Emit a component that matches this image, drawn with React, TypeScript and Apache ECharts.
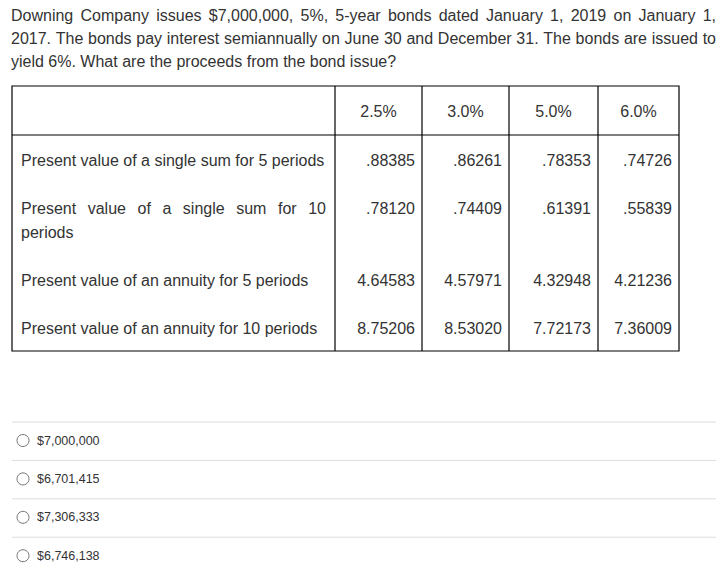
import React, { useEffect, useRef } from "react";
import * as echarts from "echarts";

const questionLines = [
  "Downing Company issues $7,000,000, 5%, 5-year bonds dated January 1, 2019 on January 1,",
  "2017. The bonds pay interest semiannually on June 30 and December 31. The bonds are issued to",
  "yield 6%. What are the proceeds from the bond issue?",
];
const rateHeaders = ["2.5%", "3.0%", "5.0%", "6.0%"];
const rowLabels = [
  "Present value of a single sum for 5 periods",
  "Present value of a single sum for 10 periods",
  "Present value of an annuity for 5 periods",
  "Present value of an annuity for 10 periods",
];
const pvSingle5 = [0.88385, 0.86261, 0.78353, 0.74726];
const pvSingle10 = [0.7812, 0.74409, 0.61391, 0.55839];
const pvAnnuity5 = [4.64583, 4.57971, 4.32948, 4.21236];
const pvAnnuity10 = [8.75206, 8.5302, 7.72173, 7.36009];
const answerChoices = ["$7,000,000", "$6,701,415", "$7,306,333", "$6,746,138"];

const FONT = '"Liberation Sans", Arial, sans-serif';
const TEXT = "#333333";

function fmt(v: number) {
  const s = v.toFixed(5);
  return s.startsWith("0") ? s.slice(1) : s;
}

let ctx: CanvasRenderingContext2D | null = null;
function measure(s: string, size: number) {
  if (!ctx) ctx = document.createElement("canvas").getContext("2d");
  ctx!.font = `${size}px ${FONT}`;
  return ctx!.measureText(s).width;
}

function textEl(text: string, x: number, y: number, size: number, align = "left", extra: any = {}) {
  return {
    type: "text",
    x,
    y,
    silent: true,
    style: { text, fill: TEXT, fontSize: size, fontFamily: FONT, align, verticalAlign: "middle", ...extra },
  };
}

function justified(line: string, x0: number, x1: number, y: number, size: number) {
  const words = line.split(" ");
  const widths = words.map((w) => measure(w, size));
  const total = widths.reduce((a, b) => a + b, 0);
  const gap = words.length > 1 ? (x1 - x0 - total) / (words.length - 1) : 0;
  const els: any[] = [];
  let x = x0;
  words.forEach((w, i) => {
    els.push(textEl(w, x, y, size));
    x += widths[i] + gap;
  });
  return els;
}

function wrap(text: string, width: number, size: number) {
  const words = text.split(" ");
  const lines: string[] = [];
  let cur = "";
  words.forEach((w) => {
    const t = cur ? cur + " " + w : w;
    if (measure(t, size) > width && cur) {
      lines.push(cur);
      cur = w;
    } else cur = t;
  });
  if (cur) lines.push(cur);
  return lines;
}

export default function App() {
  const ref = useRef<HTMLDivElement>(null);
  useEffect(() => {
    const chart = echarts.init(ref.current!, null, { renderer: "svg" });
    const els: any[] = [];

    // question
    questionLines.forEach((ln, i) => {
      const y = 15.5 + i * 23;
      if (i < questionLines.length - 1) els.push(...justified(ln, 11, 716, y, 16));
      else els.push(textEl(ln, 11, y, 16));
    });

    // table
    const colX = [12, 335, 422, 509, 598, 679];
    const top = 86;
    const headerBottom = 135;
    const lineH = 24;
    const pad = 12;
    const values = [pvSingle5, pvSingle10, pvAnnuity5, pvAnnuity10];
    const border = { stroke: "#000", lineWidth: 1.2 };

    rateHeaders.forEach((h, j) => {
      els.push(textEl(h, (colX[j + 1] + colX[j + 2]) / 2, (top + headerBottom) / 2 + 1, 16, "center"));
    });

    let yTop = headerBottom;
    rowLabels.forEach((lab, r) => {
      const lines = wrap(lab, colX[1] - colX[0] - 18, 16);
      lines.forEach((ln, k) => {
        const y = yTop + pad + lineH / 2 + k * lineH + 1;
        if (k < lines.length - 1) els.push(...justified(ln, colX[0] + 9, colX[1] - 9, y, 16));
        else els.push(textEl(ln, colX[0] + 9, y, 16));
      });
      values[r].forEach((v, j) => {
        els.push(textEl(fmt(v), colX[j + 2] - 7, yTop + pad + lineH / 2 + 1, 16, "right"));
      });
      yTop += pad * 2 + lines.length * lineH;
    });
    const bottom = yTop;

    els.push({ type: "rect", silent: true, shape: { x: colX[0], y: top, width: colX[5] - colX[0], height: bottom - top }, style: { fill: "none", ...border } });
    els.push({ type: "line", silent: true, shape: { x1: colX[0], y1: headerBottom, x2: colX[5], y2: headerBottom }, style: border });
    for (let j = 1; j < 5; j++) {
      els.push({ type: "line", silent: true, shape: { x1: colX[j], y1: top, x2: colX[j], y2: bottom }, style: border });
    }

    // answer choices
    answerChoices.forEach((c, i) => {
      const sepY = 422 + i * 38.4;
      els.push({ type: "line", silent: true, shape: { x1: 12, y1: sepY, x2: 716, y2: sepY }, style: { stroke: "#dddddd", lineWidth: 1 } });
      const cy = sepY + 18.5;
      els.push({ type: "circle", silent: true, shape: { cx: 23, cy, r: 6 }, style: { fill: "#fff", stroke: "#767676", lineWidth: 1 } });
      els.push(textEl(c, 37, cy, 12.5));
    });

    chart.setOption({ animation: false, graphic: { elements: els } });
    return () => chart.dispose();
  }, []);
  return <div ref={ref} style={{ position: "absolute", left: 0, top: 0, width: 727, height: 577, background: "#fff" }} />;
}
